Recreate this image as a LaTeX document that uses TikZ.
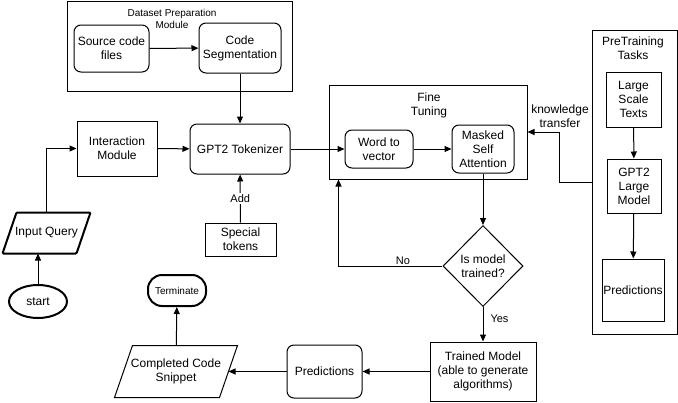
\documentclass[tikz,border=0pt]{standalone}
\usepackage{fontspec}
\setmainfont{Liberation Sans}
\usetikzlibrary{arrows.meta,shapes.geometric}

\begin{document}
\begin{tikzpicture}[x=1pt, y=-1pt, line width=1pt, >={Triangle[length=7pt,width=6pt]},
        font=\fontsize{12}{14}\selectfont,
        box/.style = {draw, align=center, inner sep=1pt},
        rbox/.style = {box, rounded corners=7pt},
        frame/.style = {draw, inner sep=0pt},
        io/.style = {align=center, inner sep=0pt},
        small/.style = {font=\fontsize{10}{12}\selectfont},
        lbl/.style = {font=\fontsize{11}{13}\selectfont, inner sep=1pt}]

        \useasboundingbox (0,0) rectangle (678,402);

        % Dataset preparation module
        \node[frame, minimum width=225, minimum height=90] (DP) at (179.5,46) {};
        \node[small, align=center] at (172,19) {Dataset Preparation\\Module};
        \node[rbox, minimum width=75, minimum height=47] (S) at (111.5,48.5) {Source code\\files};
        \node[rbox, minimum width=82, minimum height=50] (C) at (240,48) {Code\\Segmentation};

        % Tokenizer row
        \node[box, minimum width=80, minimum height=55] (I) at (117,148.5) {Interaction\\Module};
        \node[rbox, minimum width=100, minimum height=50] (T) at (240,149) {GPT2 Tokenizer};
        \node[box, minimum width=71, minimum height=33] (Sp) at (240.5,239.5) {Special\\tokens};

        % Start and query
        \node[io, minimum width=87, minimum height=40] (Q) at (46.5,233) {Input Query};
        \draw[line width=2pt, rounded corners=1pt] (Q.south west) -- ([xshift=-14pt]Q.south east)
            -- (Q.north east) -- ([xshift=14pt]Q.north west) -- cycle;
        \node[draw, ellipse, line width=2pt, inner sep=0pt, minimum width=58, minimum height=33] (St) at (38,301.5) {start};

        % Fine tuning
        \node[frame, minimum width=198, minimum height=94] (F) at (428,132) {};
        \node[align=center] at (429,105) {Fine\\Tuning};
        \node[rbox, minimum width=68, minimum height=38] (W) at (379,149) {Word to\\vector};
        \node[rbox, minimum width=62, minimum height=48] (M) at (483,149) {Masked\\Self\\Attention};

        % Pretraining tasks
        \node[frame, minimum width=85, minimum height=304] (P) at (634.5,182) {};
        \node[align=center] at (633,48.5) {PreTraining\\Tasks};
        \node[box, minimum width=55, minimum height=55] (L) at (633.5,99.5) {Large\\Scale\\Texts};
        \node[box, minimum width=54, minimum height=54] (G) at (634,186) {GPT2\\Large\\Model};
        \node[box, minimum width=62, minimum height=62] (Pr) at (633,290) {Predictions};

        % Decision and output
        \node[draw, diamond, align=center, inner sep=0pt, minimum width=80, minimum height=81] (D) at (483,266) {Is model\\trained?};
        \node[box, minimum width=106, minimum height=59] (R) at (483,371.5) {Trained Model\\(able to generate\\algorithms)};
        \node[rbox, minimum width=75, minimum height=53] (Pb) at (324.5,371.5) {Predictions};
        \node[io, minimum width=122, minimum height=51] (Cc) at (176,371.5) {Completed Code\\Snippet};
        \draw (Cc.south west) -- ([xshift=-18pt]Cc.south east)
            -- (Cc.north east) -- ([xshift=18pt]Cc.north west) -- cycle;
        \node[draw, small, line width=2pt, rounded corners=14pt, inner sep=0pt,
              minimum width=58, minimum height=31] (Tm) at (177,290.5) {Terminate};

        % Connectors
        \draw[->] (S) -- (C);
        \draw[->] (C) -- (T);
        \draw[->] (St) -- (St |- Q.south);
        \draw[->] (Q) |- (I);
        \draw[->] (I) -- (T);
        \draw[->] (Sp) -- node[lbl, fill=white] {Add} (T);
        \draw[->] (T) -- (W);
        \draw[->] (W) -- (M);
        \draw[->] (L) -- (G);
        \draw[->] (G) -- (Pr);
        \draw[->] (P.west |- 0,182) -- (559,182) -- (559,132) -- (F.east);
        \node[align=center] at (560,116.5) {knowledge\\transfer};
        \draw[->] (M) -- (D);
        \draw[->] (D) -| node[lbl, pos=0.19, above] {No} ([xshift=10pt]F.south west);
        \draw[->] (D) -- (R);
        \node[lbl, anchor=west] at (489,319) {Yes};
        \draw[->] (R) -- (Pb);
        \draw[->] (Pb) -- ([xshift=-9pt]Cc.east);
        \draw[->] (Cc) -- (Tm);
    \end{tikzpicture}
\end{document}
